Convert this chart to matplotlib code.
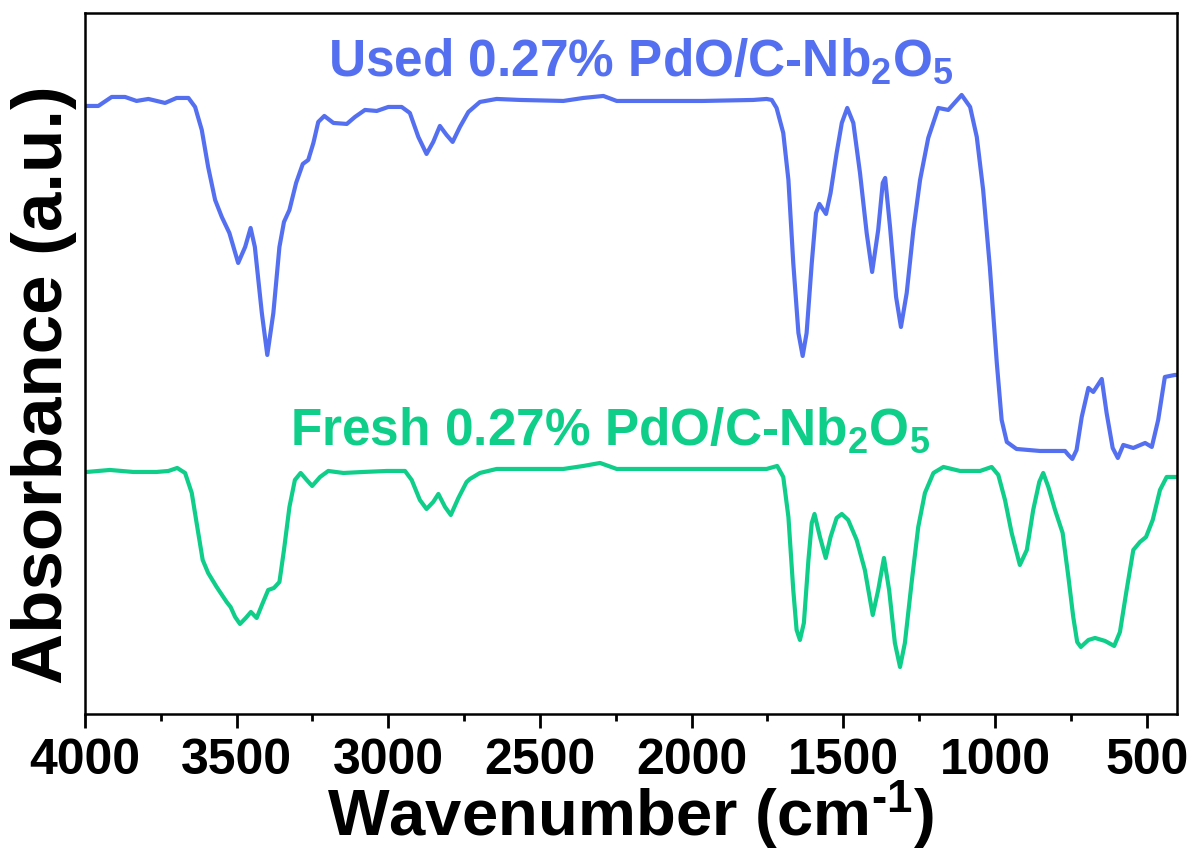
import matplotlib
matplotlib.use("Agg")
import matplotlib.pyplot as plt
from matplotlib.ticker import MultipleLocator

plt.rcParams['font.family'] = ['Liberation Sans', 'DejaVu Sans']
plt.rcParams['font.weight'] = 'bold'
plt.rcParams['mathtext.fontset'] = 'custom'
plt.rcParams['mathtext.rm'] = 'Liberation Sans:bold'
plt.rcParams['mathtext.bf'] = 'Liberation Sans:bold'
plt.rcParams['mathtext.it'] = 'Liberation Sans:bold:italic'
plt.rcParams['mathtext.default'] = 'rm'

# FTIR spectra, wavenumber (cm-1) vs absorbance (a.u., offset)
used_wn = [4000, 3994, 3956, 3912, 3868, 3830, 3791, 3736, 3698, 3659, 3637,
           3615, 3594, 3571, 3549, 3524, 3495, 3472, 3454, 3440, 3417, 3399,
           3379, 3359, 3344, 3326, 3304, 3282, 3264, 3247, 3231, 3211, 3181,
           3137, 3110, 3077, 3038, 3000, 2956, 2929, 2901, 2874, 2852, 2830,
           2808, 2788, 2764, 2736, 2698, 2643, 2566, 2423, 2357, 2291, 2247,
           2126, 1962, 1797, 1753, 1736, 1720, 1698, 1681, 1665, 1648, 1634,
           1621, 1604, 1590, 1579, 1557, 1542, 1522, 1505, 1487, 1467, 1445,
           1423, 1405, 1385, 1370, 1362, 1346, 1326, 1310, 1291, 1269, 1247,
           1220, 1187, 1154, 1110, 1082, 1060, 1039, 1017, 994, 978, 961, 929,
           852, 769, 758, 745, 731, 714, 692, 676, 648, 632, 612, 595, 577,
           544, 505, 483, 462, 440, 407, 400]
used_abs = [6.08, 6.08, 6.08, 6.17, 6.17, 6.13, 6.15, 6.11, 6.16, 6.16, 6.07,
            5.84, 5.47, 5.14, 4.97, 4.81, 4.51, 4.67, 4.86, 4.67, 4.01, 3.59,
            4.01, 4.67, 4.92, 5.04, 5.31, 5.50, 5.54, 5.71, 5.92, 5.98, 5.91,
            5.90, 5.97, 6.04, 6.03, 6.07, 6.07, 6.01, 5.77, 5.60, 5.72, 5.88,
            5.79, 5.72, 5.87, 6.02, 6.12, 6.15, 6.14, 6.13, 6.16, 6.18, 6.13,
            6.13, 6.13, 6.14, 6.15, 6.14, 6.06, 5.81, 5.34, 4.51, 3.81, 3.58,
            3.81, 4.51, 5.01, 5.10, 5.00, 5.21, 5.61, 5.91, 6.06, 5.91, 5.41,
            4.81, 4.42, 4.84, 5.31, 5.36, 4.87, 4.17, 3.87, 4.21, 4.84, 5.34,
            5.76, 6.06, 6.04, 6.19, 6.07, 5.77, 5.24, 4.47, 3.51, 2.94, 2.72,
            2.65, 2.63, 2.63, 2.59, 2.55, 2.64, 2.97, 3.26, 3.22, 3.35, 3.01,
            2.66, 2.56, 2.69, 2.66, 2.71, 2.67, 2.94, 3.37, 3.39, 3.39]

fresh_wn = [4000, 3994, 3918, 3841, 3764, 3725, 3696, 3670, 3648, 3632, 3612,
            3594, 3566, 3533, 3520, 3505, 3489, 3470, 3453, 3434, 3414, 3396,
            3377, 3359, 3344, 3326, 3308, 3289, 3269, 3251, 3225, 3198, 3148,
            3082, 3005, 2945, 2923, 2896, 2874, 2852, 2835, 2813, 2794, 2769,
            2742, 2731, 2698, 2643, 2423, 2357, 2302, 2247, 2071, 1753, 1718,
            1698, 1681, 1665, 1654, 1643, 1630, 1615, 1604, 1595, 1577, 1558,
            1542, 1522, 1505, 1484, 1456, 1429, 1403, 1385, 1366, 1349, 1330,
            1313, 1297, 1275, 1253, 1231, 1203, 1170, 1115, 1049, 1011, 989,
            967, 945, 918, 895, 874, 854, 841, 824, 802, 777, 758, 742, 729,
            717, 692, 670, 637, 607, 588, 566, 544, 522, 502, 480, 456, 434,
            407, 400]
fresh_abs = [2.42, 2.42, 2.44, 2.42, 2.42, 2.43, 2.46, 2.41, 2.21, 1.91, 1.54,
             1.41, 1.27, 1.12, 1.07, 0.97, 0.90, 0.96, 1.02, 0.96, 1.11, 1.24,
             1.26, 1.32, 1.64, 2.07, 2.34, 2.41, 2.34, 2.28, 2.37, 2.43, 2.41,
             2.42, 2.43, 2.43, 2.34, 2.14, 2.05, 2.12, 2.20, 2.07, 1.99, 2.16,
             2.32, 2.35, 2.41, 2.45, 2.45, 2.48, 2.51, 2.45, 2.45, 2.45, 2.48,
             2.37, 1.97, 1.24, 0.84, 0.74, 0.91, 1.54, 1.91, 2.00, 1.77, 1.56,
             1.77, 1.96, 2.00, 1.94, 1.74, 1.44, 0.99, 1.24, 1.56, 1.24, 0.71,
             0.47, 0.71, 1.31, 1.87, 2.21, 2.41, 2.47, 2.43, 2.43, 2.47, 2.39,
             2.14, 1.81, 1.49, 1.64, 2.04, 2.32, 2.41, 2.27, 2.04, 1.81, 1.37,
             0.97, 0.72, 0.67, 0.74, 0.76, 0.73, 0.68, 0.82, 1.24, 1.64, 1.72,
             1.77, 1.94, 2.24, 2.37, 2.37, 2.37]

used_label = 'Used 0.27% PdO/C-Nb$_2$O$_5$'
fresh_label = 'Fresh 0.27% PdO/C-Nb$_2$O$_5$'
used_color = '#5470f0'
fresh_color = '#0fce8a'

fig = plt.figure(figsize=(11.92, 8.52), dpi=100)
ax = fig.add_axes([0.0713, 0.162, 0.9161, 0.8228])

ax.plot(used_wn, used_abs, color=used_color, lw=3, solid_joinstyle='round')
ax.plot(fresh_wn, fresh_abs, color=fresh_color, lw=3, solid_joinstyle='round')

ax.text(3199, 6.38, used_label, color=used_color, fontsize=37,
        fontweight='bold', ha='left', va='baseline')
ax.text(3324, 2.69, fresh_label, color=fresh_color, fontsize=37,
        fontweight='bold', ha='left', va='baseline')

ax.set_xlim(4000, 400)
ax.set_ylim(0, 7.01)
ax.xaxis.set_major_locator(MultipleLocator(500))
ax.xaxis.set_minor_locator(MultipleLocator(250))
ax.set_yticks([])

ax.tick_params(axis='x', which='major', length=10, width=2, labelsize=36, pad=7)
ax.tick_params(axis='x', which='minor', length=5, width=2)
for lbl in ax.get_xticklabels():
    lbl.set_fontweight('bold')
for sp in ax.spines.values():
    sp.set_linewidth(1.8)

ax.set_xlabel('Wavenumber (cm$^{\\text{-1}}$)', fontsize=47, fontweight='bold')
ax.xaxis.set_label_coords(0.5, -0.093)
ax.set_ylabel('Absorbance (a.u.)', fontsize=51, fontweight='bold')
ax.yaxis.set_label_coords(-0.007, 0.47)

fig.savefig('out.png', dpi=100)
